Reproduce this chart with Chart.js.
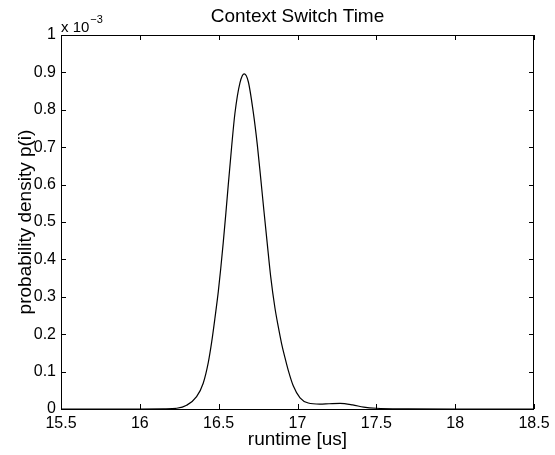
<!DOCTYPE html>
<html>
<head>
<meta charset="utf-8">
<script src="https://cdn.jsdelivr.net/npm/chart.js@4/dist/chart.umd.min.js"></script>
<style>
  html, body { margin: 0; padding: 0; background: #fff; }
  #wrap { width: 555px; height: 455px; }
</style>
</head>
<body>
<div id="wrap"><canvas id="densityChart"></canvas></div>
<script>
// runtime in microseconds, density in units of 1e-3
const runtimeUs = [15.5, 16.0, 16.15, 16.234, 16.297, 16.36, 16.402, 16.434, 16.456, 16.477, 16.498,
    16.513, 16.529, 16.546, 16.561, 16.582, 16.603, 16.635, 16.662, 16.688, 16.719, 16.745, 16.766,
    16.787, 16.808, 16.83, 16.857, 16.878, 16.899, 16.92, 16.941, 16.973, 17.016, 17.068, 17.142,
    17.2, 17.27, 17.35, 17.42, 17.5, 17.7, 18.0, 18.5];
const density = [0, 0, 0.0005, 0.002, 0.01, 0.033, 0.069, 0.124, 0.18, 0.245, 0.315,
    0.375, 0.445, 0.525, 0.6, 0.7, 0.79, 0.872, 0.896, 0.875, 0.795, 0.707, 0.62,
    0.53, 0.443, 0.354, 0.27, 0.22, 0.175, 0.138, 0.104, 0.062, 0.03, 0.016, 0.013,
    0.014, 0.015, 0.011, 0.005, 0.002, 0.0005, 0, 0];
const xTickLabels = ['15.5', '16', '16.5', '17', '17.5', '18', '18.5'];
const yTickLabels = ['0', '0.1', '0.2', '0.3', '0.4', '0.5', '0.6', '0.7', '0.8', '0.9', '1'];

const FONT = "'Liberation Sans', Arial, Helvetica, sans-serif";

// matlab style: closed box with inward ticks, title and exponent note
const matlabBox = {
    id: 'matlabBox',
    afterDraw(chart) {
        const {ctx, chartArea: a, scales: {x, y}} = chart;
        ctx.save();
        ctx.strokeStyle = '#000';
        ctx.lineWidth = 1;
        ctx.strokeRect(a.left + 0.5, a.top + 0.5, a.right - a.left - 1, a.bottom - a.top);
        ctx.beginPath();
        x.ticks.forEach(t => {
            const px = Math.round(x.getPixelForValue(t.value)) + 0.5;
            ctx.moveTo(px, a.bottom); ctx.lineTo(px, a.bottom - 5);
            ctx.moveTo(px, a.top); ctx.lineTo(px, a.top + 5);
        });
        y.ticks.forEach(t => {
            const py = Math.round(y.getPixelForValue(t.value)) + 0.5;
            ctx.moveTo(a.left, py); ctx.lineTo(a.left + 5, py);
            ctx.moveTo(a.right, py); ctx.lineTo(a.right - 5, py);
        });
        ctx.stroke();

        ctx.fillStyle = '#000';
        ctx.textAlign = 'center';
        ctx.textBaseline = 'middle';
        ctx.font = '19px ' + FONT;
        ctx.fillText('Context Switch Time', (a.left + a.right) / 2, 17);

        ctx.textAlign = 'left';
        ctx.textBaseline = 'alphabetic';
        ctx.font = '15px ' + FONT;
        ctx.fillText('x 10', a.left, 32);
        const w = ctx.measureText('x 10').width;
        ctx.font = '11px ' + FONT;
        ctx.fillText('\u22123', a.left + w + 1, 23);
        ctx.restore();
    }
};

new Chart(document.getElementById('densityChart'), {
    type: 'line',
    data: {
        datasets: [{
            data: runtimeUs.map((v, i) => ({x: v, y: density[i]})),
            borderColor: '#000',
            borderWidth: 1.2,
            pointRadius: 0,
            fill: false,
            cubicInterpolationMode: 'monotone'
        }]
    },
    options: {
        responsive: true,
        maintainAspectRatio: false,
        animation: false,
        layout: { padding: { top: 35, right: 21, left: 0, bottom: 0 } },
        plugins: { legend: { display: false }, tooltip: { enabled: false } },
        scales: {
            x: {
                type: 'linear',
                min: 15.5,
                max: 18.5,
                grid: { display: false, drawTicks: false },
                border: { display: false },
                ticks: {
                    stepSize: 0.5,
                    padding: 5,
                    color: '#000',
                    font: { family: FONT, size: 16 },
                    maxRotation: 0,
                    callback: (v, i) => xTickLabels[i]
                },
                title: {
                    display: true,
                    text: 'runtime [us]',
                    color: '#000',
                    font: { family: FONT, size: 19 },
                    padding: { top: 0, bottom: 4 }
                },
                afterFit: s => { s.height = 46; }
            },
            y: {
                min: 0,
                max: 1,
                grid: { display: false, drawTicks: false },
                border: { display: false },
                ticks: {
                    stepSize: 0.1,
                    padding: 5,
                    color: '#000',
                    font: { family: FONT, size: 16 },
                    callback: (v, i) => yTickLabels[i]
                },
                title: {
                    display: true,
                    text: 'probability density p(i)',
                    color: '#000',
                    font: { family: FONT, size: 19 },
                    padding: { top: 14, bottom: 0 }
                },
                afterFit: s => { s.width = 61; }
            }
        }
    },
    plugins: [matlabBox]
});
</script>
</body>
</html>
